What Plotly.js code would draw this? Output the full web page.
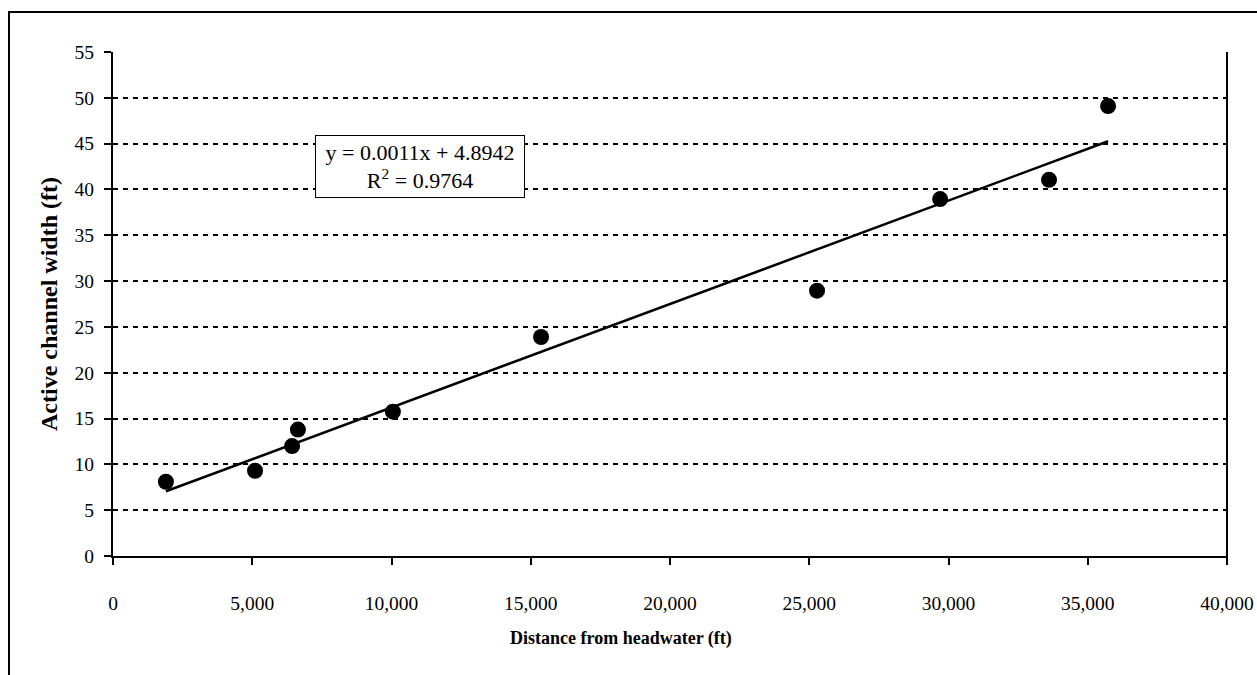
<!DOCTYPE html>
<html>
<head>
<meta charset="utf-8">
<script src="https://cdn.plot.ly/plotly-3.0.1.min.js"></script>
<style>html,body{margin:0;padding:0;background:#fff;}#chart{width:1257px;height:675px;}</style>
</head>
<body>
<div id="chart"></div>
<script>
// Data
const distanceFt = [1900, 5100, 6430, 6640, 10050, 15370, 25280, 29700, 33610, 35730];
const widthFt = [8.1, 9.3, 12.0, 13.8, 15.75, 23.9, 28.95, 38.95, 41.05, 49.1];
const equationText = "y = 0.0011x + 4.8942";
const r2Text = "R<sup>2</sup> = 0.9764";
const xTitle = "Distance from headwater (ft)";
const yTitle = "Active channel width (ft)";
const xTickVals = [0, 5000, 10000, 15000, 20000, 25000, 30000, 35000, 40000];
const xTickText = ["0", "5,000", "10,000", "15,000", "20,000", "25,000", "30,000", "35,000", "40,000"];
const yTickVals = [0, 5, 10, 15, 20, 25, 30, 35, 40, 45, 50, 55];

// least squares trend line through the data
const n = distanceFt.length;
const mx = distanceFt.reduce((a, b) => a + b, 0) / n;
const my = widthFt.reduce((a, b) => a + b, 0) / n;
let sxy = 0, sxx = 0;
for (let i = 0; i < n; i++) { sxy += (distanceFt[i] - mx) * (widthFt[i] - my); sxx += (distanceFt[i] - mx) ** 2; }
const slope = sxy / sxx, intercept = my - slope * mx;
const xMin = Math.min(...distanceFt), xMax = Math.max(...distanceFt);

const font = "Liberation Serif, Times New Roman, serif";
const L = 113, R = 30, T = 52, B = 119, W = 1257, H = 675;
const pw = W - L - R, ph = H - T - B;

const traces = [
  {x: [xMin, xMax], y: [slope * xMin + intercept, slope * xMax + intercept], mode: "lines",
   line: {color: "#000", width: 2.5}, hoverinfo: "skip", showlegend: false},
  {x: distanceFt, y: widthFt, mode: "markers", type: "scatter",
   marker: {color: "#000", size: 16, symbol: "circle"}, showlegend: false}
];

const layout = {
  width: W, height: H,
  margin: {l: L, r: R, t: T, b: B, pad: 0},
  paper_bgcolor: "#fff", plot_bgcolor: "#fff",
  font: {family: font, size: 19, color: "#000"},
  showlegend: false,
  xaxis: {
    range: [0, 40000], tickvals: xTickVals, ticktext: xTickText,
    showgrid: false, zeroline: false, showline: true, linecolor: "#000", linewidth: 2,
    ticks: "outside", ticklen: 7, tickwidth: 2, tickcolor: "#000",
    ticklabelstandoff: 22,
    tickfont: {family: font, size: 19.5}
  },
  yaxis: {
    range: [0, 55], tickvals: yTickVals,
    showgrid: true, gridcolor: "#000", gridwidth: 2, griddash: "5px,5px",
    zeroline: false, showline: true, linecolor: "#000", linewidth: 2,
    ticks: "outside", ticklen: 7, tickwidth: 2, tickcolor: "#000",
    ticklabelstandoff: 6,
    tickfont: {family: font, size: 19.5},
    title: {text: "<b>" + yTitle + "</b>", font: {family: font, size: 24}, standoff: 10}
  },
  shapes: [
    {type: "line", xref: "paper", yref: "paper", x0: 1, x1: 1, y0: 0, y1: 1, line: {color: "#000", width: 2}},
    {type: "line", xref: "paper", yref: "paper", x0: 1, x1: 1, y0: -7 / ph, y1: 0, line: {color: "#000", width: 2}},
    {type: "rect", xref: "paper", yref: "paper",
     x0: (9 - L) / pw, x1: (W + 20 - L) / pw, y0: -(B + 20) / ph, y1: 1 + (T - 12) / ph,
     line: {color: "#000", width: 2}, fillcolor: "rgba(0,0,0,0)", layer: "below"}
  ],
  annotations: [
    {xref: "paper", yref: "paper", x: (420 - L) / pw, y: 1 - (166.5 - T) / ph,
     text: equationText + "<br>" + r2Text, showarrow: false, align: "center",
     font: {family: font, size: 22, color: "#000"},
     bordercolor: "#000", borderwidth: 1, borderpad: 2, bgcolor: "#fff",
     width: 204, height: 57, xanchor: "center", yanchor: "middle"},
    {xref: "paper", yref: "paper", x: (621 - L) / pw, y: -(638 - (H - B)) / ph,
     text: "<b>" + xTitle + "</b>", showarrow: false,
     font: {family: font, size: 18, color: "#000"}, xanchor: "center", yanchor: "middle"}
  ]
};

Plotly.newPlot("chart", traces, layout, {displayModeBar: false, staticPlot: true});
</script>
</body>
</html>
